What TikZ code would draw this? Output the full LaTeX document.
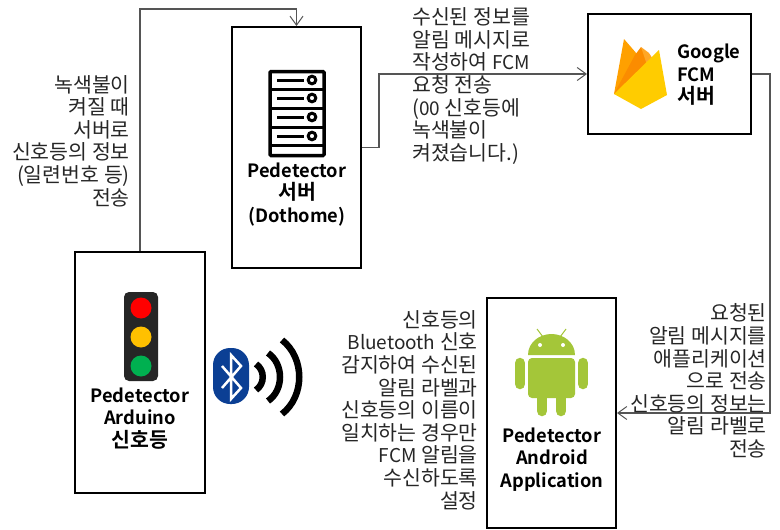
\documentclass[tikz,border=0pt]{standalone}
\usepackage{fontspec}
\setmainfont{Noto Sans CJK KR}[BoldFont={Noto Sans CJK KR Bold}]
\usetikzlibrary{arrows.meta}
\definecolor{wire}{HTML}{555555}
\definecolor{robot}{HTML}{A4C639}
\definecolor{amber}{HTML}{FFC000}
\definecolor{lamp}{HTML}{00B050}
\definecolor{tooth}{HTML}{0B3F94}
\definecolor{flameback}{HTML}{FFA000}
\definecolor{flamemid}{HTML}{FB8C00}
\definecolor{flametip}{HTML}{FFA726}
\definecolor{flamefront}{HTML}{FFCC00}
\tikzset{box/.style={draw, black, line width=2pt, fill=white, inner sep=0pt}}
\tikzset{wired/.style={wire, line width=1.2pt, -{Straight Barb[length=9pt, width=13pt, line width=1pt]}}}
\tikzset{note/.style={font=\fontsize{20.5}{22.6}\selectfont, text=black!85, inner sep=0pt}}
\tikzset{title/.style={font=\fontsize{18.3}{22.4}\selectfont\bfseries, inner sep=0pt}}
\tikzset{wave/.style={line width=6.5pt, black}}
\tikzset{limb/.style={line width=10.5pt, robot, line cap=round}}
\newcommand{\lat}[1]{{\fontsize{19}{22.6}\selectfont #1}}
\newcommand{\kr}[1]{{\fontsize{20.5}{22.4}\selectfont #1}}

\begin{document}
\begin{tikzpicture}[x=1pt, y=-1pt]
	\useasboundingbox (0,0) rectangle (780,530);

	% Boxes
	\node[box, minimum width=129pt, minimum height=241pt] (server) at (296.5,147.5) {};
	\node[box, minimum width=163pt, minimum height=120pt] (fcm) at (669.5,74) {};
	\node[box, minimum width=130pt, minimum height=241pt] (arduino) at (140,372.5) {};
	\node[box, minimum width=129pt, minimum height=230pt] (android) at (551.5,413) {};

	% Bends
	\coordinate (up) at (140,9);
	\coordinate (mid) at (379,74);
	\coordinate (far) at (770,74);

	% Connectors
	\draw[wired] (arduino.north) -- (up) -| (server.north);
	\draw[wired] (server.east) -| (mid) -- (fcm.west);
	\draw[wired] (fcm.east) -- (far) |- (android.east);

	% Box titles
	\node[title, align=center] (servertitle) at (297,194.5) {Pedetector\\\kr{서버}\\(Dothome)};
	\node[title, align=left, anchor=west] (fcmtitle) at (677,75) {Google\\FCM\\\kr{서버}};
	\node[title, align=center] (arduinotitle) at (140,418.5) {Pedetector\\Arduino\\\kr{신호등}};
	\node[title, align=center] (androidtitle) at (552,459.5) {Pedetector\\Android\\Application};

	% Notes
	\node[note, align=right, anchor=east] (note1) at (130,141) {녹색불이\\켜질 때\\서버로\\신호등의 정보\\(일련번호 등)\\전송};
	\node[note, align=left, anchor=west] (note2) at (412,86) {수신된 정보를\\알림 메시지로\\작성하여 \lat{FCM}\\요청 전송\\(\lat{00} 신호등에\\녹색불이\\켜졌습니다.)};
	\node[note, align=right, anchor=east] (note3) at (767,381) {요청된\\알림 메시지를\\애플리케이션\\으로 전송\\신호등의 정보는\\알림 라벨로\\전송};
	\node[note, align=right, anchor=east] (note4) at (478,410) {신호등의\\\lat{Bluetooth} 신호\\감지하여 수신된\\알림 라벨과\\신호등의 이름이\\일치하는 경우만\\\lat{FCM} 알림을\\수신하도록\\설정};

	% Server icon
	\draw[line width=3.5pt, rounded corners=1pt] (270,71.5) rectangle (324,155.5);
	\foreach \y in {89,108,127,145}
		\draw[line width=3pt] (270,\y) -- (324,\y);
	\foreach \y in {80,98,117,136} {
		\draw[line width=3pt] (277,\y) -- (304,\y);
		\draw[line width=3pt] (312,\y) circle (3.8pt);
	}

	% Firebase icon
	\fill[flameback] (614,94) -- (624,39) -- (637,54) -- (650,80) -- cycle;
	\fill[flamemid] (614,94) -- (635,55) -- (641,47) -- (652,66) -- (640,90) -- cycle;
	\fill[flametip] (641,47) -- (649,53) -- (656,64) -- (648,68) -- cycle;
	\fill[flamefront] (614,94) -- (659,50) -- (667,95) -- (641,109) -- cycle;

	% Traffic light
	\fill[black!85, rounded corners=5pt] (124,292) rectangle (158,381);
	\fill[red] (141,308) circle (10.5pt);
	\fill[amber] (141,337) circle (10.5pt);
	\fill[lamp] (141,366) circle (10.5pt);

	% Bluetooth
	\fill[tooth, rounded corners=17pt] (213,348) rectangle (249,404);
	\draw[white, line width=2.5pt] (222,366) -- (241,388) -- (231,399) -- (231,355) -- (241,366) -- (222,388);
	\draw[wave] (256,364) .. controls (265,370) and (265,384) .. (256,390);
	\draw[wave] (268,353) .. controls (284,364) and (284,390) .. (268,401);
	\draw[wave] (282,340) .. controls (305,358) and (305,396) .. (282,414);

	% Android icon
	\fill[robot] (528,355) .. controls (528,342) and (540,334) .. (551.5,334) .. controls (563,334) and (575,342) .. (575,355) -- cycle;
	\fill[robot, rounded corners=4pt] (528,358) -- (575,358) -- (575,398) -- (528,398) -- cycle;
	\draw[limb] (520,363) -- (520,384);
	\draw[limb] (583,363) -- (583,384);
	\draw[limb] (542,395) -- (542,411);
	\draw[limb] (561,395) -- (561,411);
	\draw[robot, line width=1pt] (537,329) -- (543,337);
	\draw[robot, line width=1pt] (566,329) -- (560,337);
	\fill[white] (540,345) circle (2pt);
	\fill[white] (563,345) circle (2pt);
\end{tikzpicture}
\end{document}
